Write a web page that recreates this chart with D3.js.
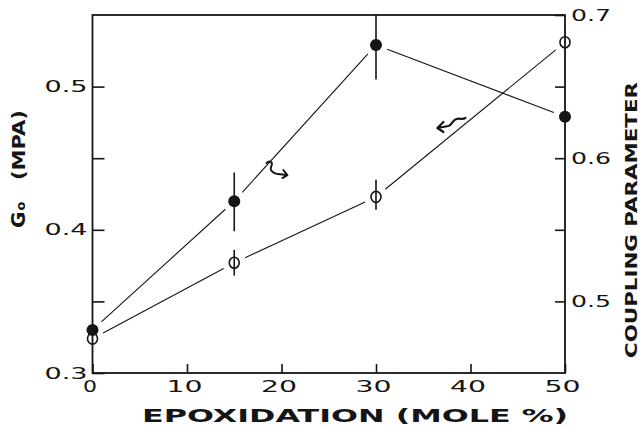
<!DOCTYPE html>
<html><head><meta charset="utf-8">
<script src="https://cdn.jsdelivr.net/npm/d3@7"></script>
<style>html,body{margin:0;padding:0;background:#fff;} svg{display:block;}</style>
</head><body>
<svg id="chart" width="641" height="428"></svg>
<script>
// ---- data ----
const epoxidation = [0, 15, 30, 50];
const g0 = [0.324, 0.377, 0.423, 0.531];            // open circles, left axis
const g0ErrLow = [null, 0.368, 0.414, null];
const g0ErrHigh = [null, 0.386, 0.435, null];
const coupling = [0.480, 0.570, 0.679, 0.629];       // filled circles, right axis
const couplingErrLow = [null, 0.549, 0.655, null];
const couplingErrHigh = [null, 0.590, 0.700, null];
const xTicks = [0, 10, 20, 30, 40, 50];
const xTickLabels = ["0", "10", "20", "30", "40", "50"];
const leftTicks = [0.3, 0.35, 0.4, 0.45, 0.5];
const leftTickLabels = ["0.3", "", "0.4", "", "0.5"];
const rightTicks = [0.5, 0.55, 0.6, 0.65, 0.7];
const rightTickLabels = ["0.5", "", "0.6", "", "0.7"];
const xTitle = "EPOXIDATION (MOLE %)";
const leftTitleSymbol = "G";
const leftTitleSub = "o";
const leftTitleUnit = "(MPA)";
const rightTitle = "COUPLING PARAMETER";
// annotation anchors (data units: epoxidation, G0)
const arrowRightAnchor = [18.4, 0.4466];
const arrowLeftAnchor = [36.5, 0.4711];

// ---- layout ----
const L = 92.5, R = 565, T = 15, B = 373;
const ink = "#151515";
const svg = d3.select("#chart");
const x = d3.scaleLinear().domain([0, 50]).range([L, R]);
const yL = d3.scaleLinear().domain([0.3, 0.55]).range([B, T]);
const yR = d3.scaleLinear().domain([0.45, 0.7]).range([B, T]);

const tickFont = "'DejaVu Sans', sans-serif";

function styleTicks(g, labels, width3) {
  g.select(".domain").remove();
  g.selectAll(".tick line").attr("stroke", ink).attr("stroke-width", 1.6);
  g.selectAll(".tick text")
    .text((d, i) => labels[i])
    .attr("fill", ink)
    .style("font-family", tickFont)
    .style("font-size", "16px")
    .each(function (d, i) {
      const s = labels[i];
      if (s.length) {
        d3.select(this)
          .attr("textLength", s.length === 1 ? 14 : (s.length === 2 ? 36 : width3))
          .attr("lengthAdjust", "spacingAndGlyphs");
      }
    });
}

// left axis
const gl = svg.append("g").attr("transform", `translate(${L},0)`)
  .call(d3.axisLeft(yL).tickValues(leftTicks).tickSizeInner(-12).tickSizeOuter(0).tickPadding(5));
styleTicks(gl, leftTickLabels, 43);

// right axis
const gr = svg.append("g").attr("transform", `translate(${R},0)`)
  .call(d3.axisRight(yR).tickValues(rightTicks).tickSizeInner(-10).tickSizeOuter(0).tickPadding(6));
styleTicks(gr, rightTickLabels, 40);

// bottom axis
const gb = svg.append("g").attr("transform", `translate(0,${B})`)
  .call(d3.axisBottom(x).tickValues(xTicks).tickSizeInner(-9).tickSizeOuter(0));
styleTicks(gb, xTickLabels, 0);
gb.selectAll(".tick text").attr("y", 19).attr("dy", 0).attr("dx", -3);

// frame
svg.append("rect").attr("x", L).attr("y", T).attr("width", R - L).attr("height", B - T)
  .attr("fill", "none").attr("stroke", ink).attr("stroke-width", 1.8);

// ---- connectors with gaps ----
function connectors(vals, yScale, gap) {
  const pts = epoxidation.map((e, i) => [x(e), yScale(vals[i])]);
  const segs = [];
  for (let i = 0; i < pts.length - 1; i++) {
    const [x1, y1] = pts[i], [x2, y2] = pts[i + 1];
    const dx = x2 - x1, dy = y2 - y1, len = Math.hypot(dx, dy);
    const ux = dx / len, uy = dy / len;
    segs.push([x1 + ux * gap, y1 + uy * gap, x2 - ux * gap, y2 - uy * gap]);
  }
  return segs;
}
svg.append("g").selectAll("line").data(connectors(g0, yL, 12)).join("line")
  .attr("x1", d => d[0]).attr("y1", d => d[1]).attr("x2", d => d[2]).attr("y2", d => d[3])
  .attr("stroke", ink).attr("stroke-width", 1.1);
svg.append("g").selectAll("line").data(connectors(coupling, yR, 12)).join("line")
  .attr("x1", d => d[0]).attr("y1", d => d[1]).attr("x2", d => d[2]).attr("y2", d => d[3])
  .attr("stroke", ink).attr("stroke-width", 1.1);

// ---- error bars ----
const idx = d3.range(epoxidation.length);
svg.append("g").selectAll("line").data(idx.filter(i => g0ErrLow[i] !== null)).join("line")
  .attr("x1", i => x(epoxidation[i])).attr("x2", i => x(epoxidation[i]))
  .attr("y1", i => yL(g0ErrLow[i])).attr("y2", i => yL(g0ErrHigh[i]))
  .attr("stroke", ink).attr("stroke-width", 1.6);
svg.append("g").selectAll("line").data(idx.filter(i => couplingErrLow[i] !== null)).join("line")
  .attr("x1", i => x(epoxidation[i])).attr("x2", i => x(epoxidation[i]))
  .attr("y1", i => yR(couplingErrLow[i])).attr("y2", i => yR(couplingErrHigh[i]))
  .attr("stroke", ink).attr("stroke-width", 1.6);

// ---- markers ----
svg.append("g").selectAll("ellipse").data(idx).join("ellipse")
  .attr("cx", i => x(epoxidation[i])).attr("cy", i => yL(g0[i]))
  .attr("rx", 5).attr("ry", 5.5)
  .attr("fill", "none").attr("stroke", ink).attr("stroke-width", 1.6);
svg.append("g").selectAll("circle").data(idx).join("circle")
  .attr("cx", i => x(epoxidation[i])).attr("cy", i => yR(coupling[i]))
  .attr("r", 6).attr("fill", ink);

// ---- arrows ----
const a1x = x(arrowRightAnchor[0]), a1y = yL(arrowRightAnchor[1]);
svg.append("path")
  .attr("d", `M${a1x},${a1y} c3,-3 7,-1 5,3 c-2,4 1,7 6,8 l10,1 m-4,-5 l4,5 l-5,3`)
  .attr("fill", "none").attr("stroke", ink).attr("stroke-width", 1.9)
  .attr("stroke-linecap", "round").attr("stroke-linejoin", "round");
const a2x = x(arrowLeftAnchor[0]), a2y = yL(arrowLeftAnchor[1]);
svg.append("path")
  .attr("d", `M${a2x},${a2y} l11,-2 c4,-1 4,-6 8,-7 c4,-1 6,1 9,-1 M${a2x + 6},${a2y - 6} l-6,6 l6,4`)
  .attr("fill", "none").attr("stroke", ink).attr("stroke-width", 2.2)
  .attr("stroke-linecap", "round").attr("stroke-linejoin", "round");

// ---- titles ----
svg.append("text").attr("x", 142).attr("y", 422)
  .attr("textLength", 426).attr("lengthAdjust", "spacingAndGlyphs")
  .attr("fill", ink).style("font-family", tickFont).style("font-weight", "bold").style("font-size", "17px")
  .text(xTitle);

// left title: "Go" then "(MPA)"
const lt = svg.append("text").attr("transform", "translate(25,228) rotate(-90)")
  .attr("fill", ink).style("font-family", tickFont).style("font-weight", "bold").style("font-size", "20px");
lt.append("tspan").text(leftTitleSymbol);
lt.append("tspan").attr("dx", 1).style("font-size", "13px").text(leftTitleSub);
svg.append("text").attr("transform", "translate(25,180) rotate(-90)")
  .attr("textLength", 70).attr("lengthAdjust", "spacingAndGlyphs")
  .attr("fill", ink).style("font-family", tickFont).style("font-weight", "bold").style("font-size", "17px")
  .text(leftTitleUnit);

svg.append("text").attr("transform", "translate(637,358) rotate(-90)")
  .attr("textLength", 276).attr("lengthAdjust", "spacingAndGlyphs")
  .attr("fill", ink).style("font-family", tickFont).style("font-weight", "bold").style("font-size", "16px")
  .text(rightTitle);
</script>
</body></html>
